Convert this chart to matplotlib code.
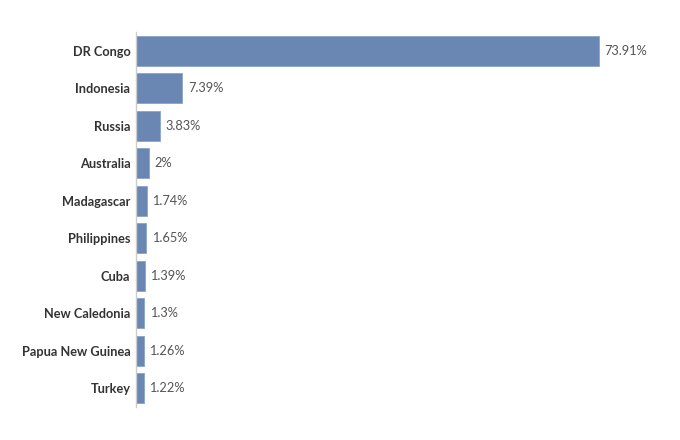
import matplotlib
matplotlib.use('Agg')
import matplotlib.pyplot as plt

countries = ['DR Congo', 'Indonesia', 'Russia', 'Australia', 'Madagascar',
             'Philippines', 'Cuba', 'New Caledonia', 'Papua New Guinea', 'Turkey']
shares = [73.91, 7.39, 3.83, 2, 1.74, 1.65, 1.39, 1.3, 1.26, 1.22]

plt.rcParams['font.family'] = ['Lato', 'DejaVu Sans']

fig = plt.figure(figsize=(6.8, 4.4), dpi=100)
ax = fig.add_axes([136 / 680, 33 / 440, 524 / 680, 375 / 440])

y = list(range(len(countries)))
ax.barh(y, shares, height=0.8, color='#6a86b3', edgecolor='#8aa3c8', linewidth=0.6)

for yi, v in zip(y, shares):
    ax.annotate(f'{v:g}%', (v, yi), xytext=(4, 0), textcoords='offset points',
                va='center', ha='left', fontsize=9.2, color='#555555')

ax.set_yticks(y)
ax.set_yticklabels(countries, fontsize=9.2, fontweight='bold', color='#333333')
ax.set_ylim(len(countries) - 0.5, -0.5)
ax.set_xlim(0, 73.91 * 524 / 463)
ax.set_xticks([])
ax.tick_params(axis='y', length=0, pad=4)

for s in ['top', 'right', 'bottom']:
    ax.spines[s].set_visible(False)
ax.spines['left'].set_color('#cccccc')
ax.spines['left'].set_linewidth(1)

fig.savefig('out.png', dpi=100)
